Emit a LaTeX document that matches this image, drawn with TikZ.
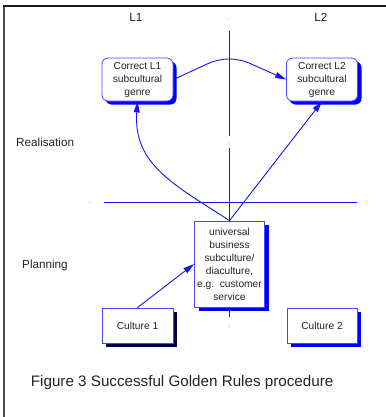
\documentclass[tikz,border=0pt]{standalone}
\usepackage{fontspec}
\setmainfont{Liberation Sans}
\usetikzlibrary{arrows.meta}
\definecolor{linkblue}{RGB}{20,20,240}
\definecolor{edgeblue}{RGB}{70,70,255}
\definecolor{shadeblue}{RGB}{0,0,255}
\definecolor{navyshade}{RGB}{0,0,80}
\definecolor{inktext}{RGB}{35,35,35}
\tikzset{
  boxtext/.style={font=\fontsize{10.2bp}{13bp}\selectfont, text=inktext, align=center},
  genrebox/.style={boxtext, draw=edgeblue, line width=0.8bp, fill=white, rounded corners=6bp,
    minimum width=71bp, minimum height=43bp, inner sep=1bp},
  squarebox/.style={boxtext, draw=edgeblue, line width=0.8bp, fill=white, inner sep=1bp},
  axis/.style={draw=linkblue, line width=0.9bp},
  link/.style={draw=linkblue, line width=0.9bp, -{Triangle[length=11bp,width=6bp]}},
  tick/.style={fill=gray!70},
  sidelabel/.style={font=\fontsize{11.7bp}{14bp}\selectfont, text=inktext, inner sep=0pt},
}
\begin{document}
\begin{tikzpicture}[x=1bp,y=-1bp]
  \useasboundingbox (0,0) rectangle (386,417);
  % page frame
  \draw[line width=2bp, draw=black!70] (4,6) -- (4,417);
  \draw[line width=1.2bp, draw=black!90] (3,6) -- (386,6);

  % column and row headings
  \node[sidelabel, anchor=base] (hL1) at (136,21.7) {L1};
  \node[sidelabel, anchor=base] (hL2) at (321,21.7) {L2};
  \node[sidelabel, anchor=base west] (hreal) at (16,146) {Realisation};
  \node[sidelabel, anchor=base west] (hplan) at (22,268) {Planning};

  % dividing axes
  \draw[axis] (229,31) -- (229,136);
  \draw[axis] (229,148) -- (229,221);
  \draw[axis] (229,310) -- (229,317);
  \draw[axis] (104,202) -- (357,202);
  \fill[tick] (229,19) circle (0.6bp);
  \fill[tick] (229,143) circle (0.6bp);
  \fill[tick] (229,326) circle (0.6bp);
  \fill[tick] (90,202) circle (0.6bp);
  \fill[tick] (367,202) circle (0.6bp);

  % offset shadows, laid down before the boxes
  \fill[shadeblue, rounded corners=6bp] (105.5,61.5) rectangle (176.5,104.5);
  \fill[shadeblue, rounded corners=6bp] (289.5,61.5) rectangle (361.5,104.5);
  \fill[shadeblue] (198.5,224.5) rectangle (268.5,310.5);
  \fill[navyshade] (105.5,311.5) rectangle (176.5,346.5);
  \fill[shadeblue] (290.5,311.5) rectangle (360.5,346.5);

  % boxes
  \node[genrebox] (L1) at (137.5,79.5) {Correct L1\\subcultural\\genre};
  \node[genrebox] (L2) at (322,79.5) {Correct L2\\subcultural\\genre};
  \node[squarebox, minimum width=70bp, minimum height=86bp] (univ) at (229.5,264)
    {universal\\business\\subculture/\\diaculture,\\e.g.~~customer\\service};
  \node[squarebox, minimum width=71bp, minimum height=35bp] (C1) at (137.5,325.5) {Culture 1};
  \node[squarebox, minimum width=70bp, minimum height=35bp] (C2) at (322,325.5) {Culture 2};

  % connectors
  \draw[link, rounded corners=10bp] (L1.east) -- (218,59) -- (240,59) -- (L2.west);
  \draw[link] (univ.north) .. controls (175,185) and (133,165) .. (L1.south);
  \draw[link] (univ.north) -- (L2.south);
  \draw[link] (C1.north) -- (univ.west);

  % caption
  \node[font=\fontsize{15.2bp}{18bp}\selectfont, text=inktext, anchor=base west, inner sep=0pt]
    (caption) at (30.7,386) {Figure 3 Successful Golden Rules procedure};
\end{tikzpicture}
\end{document}
